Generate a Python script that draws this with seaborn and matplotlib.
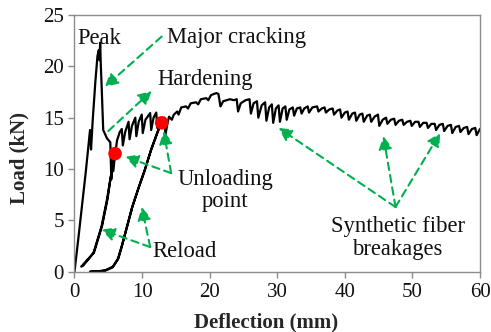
import matplotlib
matplotlib.use("Agg")
import matplotlib.pyplot as plt
import seaborn as sns
import pandas as pd

# ---------------- data ----------------
deflection = [
    0.0, 0.6, 1.2, 1.7, 2.3, 2.45, 2.7, 3.1, 3.4, 3.6, 3.7, 3.8, 3.9, 4.0, 4.25, 4.8, 5.3,
    5.45, 5.6, 5.75, 6.0,
    5.6, 5.3, 4.8, 4.0, 2.8, 1.0,
    1.3, 2.9, 4.1, 4.9, 5.4, 5.8, 6.1, 6.3, 6.7, 7.0, 7.15, 7.5, 8.0, 8.15, 8.5, 9.0, 9.15,
    9.5, 9.95, 10.1, 10.5, 11.2, 11.35, 11.7, 12.1, 12.25, 12.6, 12.9,
    12.3, 11.3, 10.3, 9.4, 8.5, 7.6, 7.0, 6.4, 5.6, 4.5, 3.5, 2.3,
    3.6, 4.6, 5.7, 6.5, 7.1, 7.7, 8.6, 9.5, 10.4, 11.4, 12.4, 13.0, 13.3, 13.45, 13.8,
    14.0, 14.4, 14.7, 15.2, 15.4, 15.8, 16.5, 16.8, 17.2, 18.0, 18.3, 18.7, 19.5, 19.8,
    20.2, 21.0, 21.3, 21.6, 22.0, 23.0, 23.6, 24.0, 24.2, 24.6, 25.3, 25.9, 26.1, 26.5,
    27.0, 27.2, 27.7, 28.2, 28.4, 28.8, 29.2, 29.4, 29.8, 30.2, 30.4, 30.8, 31.2, 31.4,
    31.8, 32.3, 32.5, 32.9, 33.4, 33.6, 34.0, 34.5, 34.7, 35.2, 35.9, 36.1, 36.6, 37.0,
    37.2, 37.7, 38.2, 38.4, 38.9, 39.3, 39.5, 40.0, 40.4, 40.6, 41.1, 41.5, 41.7, 42.2,
    42.6, 42.8, 43.3, 43.7, 43.9, 44.4, 44.9, 45.1, 45.6, 46.1, 46.3, 46.8, 47.3, 47.5,
    48.0, 48.5, 48.7, 49.2, 49.7, 49.9, 50.4, 50.9, 51.1, 51.6, 52.1, 52.3, 52.8, 53.3,
    53.5, 54.0, 54.5, 54.7, 55.2, 55.7, 55.9, 56.4, 56.9, 57.1, 57.6, 58.1, 58.3, 58.8,
    59.3, 59.5, 60.0,
]
load = [
    0.0, 3.4, 6.9, 9.9, 13.8, 11.9, 14.8, 18.6, 21.0, 21.6, 20.6, 22.3, 20.0, 18.4, 13.8, 13.0, 12.6,
    9.0, 11.8, 9.8, 11.5,
    9.8, 9.0, 7.0, 4.4, 1.8, 0.5,
    0.6, 1.9, 4.5, 7.1, 9.4, 10.8, 11.8, 12.8, 13.6, 13.9, 12.3, 13.6, 14.6, 12.9, 14.2, 15.0, 13.2,
    14.6, 15.3, 13.5, 14.8, 15.45, 13.8, 15.0, 15.5, 14.0, 14.8, 14.5,
    13.6, 11.8, 9.7, 8.0, 6.2, 4.0, 2.5, 1.2, 0.4, 0.1, 0.0, 0.0,
    0.05, 0.15, 0.5, 1.3, 2.7, 4.2, 6.4, 8.2, 9.9, 12.0, 13.8, 14.6, 15.0, 13.3, 14.6,
    15.1, 14.8, 15.3, 15.6, 15.3, 16.0, 16.1, 15.9, 16.4, 16.5, 16.3, 16.8, 16.9, 16.7,
    17.2, 17.4, 17.3, 16.1, 16.6, 16.8, 16.7, 16.8, 15.6, 16.4, 16.7, 16.8, 15.4, 16.4,
    16.6, 15.0, 16.2, 16.5, 14.7, 16.0, 16.3, 14.5, 15.9, 16.2, 14.6, 15.9, 16.1, 14.8,
    15.8, 16.0, 15.2, 15.9, 16.0, 15.4, 15.9, 16.1, 15.5, 16.0, 16.1, 15.6, 15.9, 16.0,
    15.5, 15.8, 15.9, 15.3, 15.7, 15.8, 15.0, 15.5, 15.6, 14.8, 15.4, 15.5, 14.7, 15.3,
    15.4, 14.6, 15.2, 15.3, 14.6, 15.1, 15.3, 14.2, 14.8, 15.0, 14.4, 14.8, 14.9, 14.3,
    14.7, 14.8, 14.3, 14.6, 14.7, 14.2, 14.6, 14.6, 14.1, 14.5, 14.5, 14.0, 14.4, 14.4,
    13.8, 14.3, 14.4, 13.7, 14.2, 14.3, 13.5, 14.1, 14.2, 13.6, 14.0, 14.1, 13.4, 13.9,
    14.0, 13.3, 13.9,
]

unload_x = [6.0, 12.9]
unload_y = [11.5, 14.5]

x_ticks = [0, 10, 20, 30, 40, 50, 60]
y_ticks = [0, 5, 10, 15, 20, 25]

# annotation texts: (text, x, y, ha)
labels = [
    ("Peak", 3.7, 22.7, "center"),
    ("Major cracking", 13.7, 22.8, "left"),
    ("Hardening", 12.2, 18.7, "left"),
    ("Unloading\npoint", 22.3, 7.9, "center"),
    ("Reload", 11.6, 2.0, "left"),
    ("Synthetic fiber\nbreakages", 47.8, 3.3, "center"),
]
# arrows: (tail x, tail y, head x, head y)
arrows = [
    (12.9, 22.9, 4.5, 18.0),
    (5.0, 13.7, 11.4, 17.6),
    (14.3, 9.6, 7.5, 11.2),
    (14.3, 9.6, 13.2, 13.7),
    (11.2, 2.4, 4.0, 4.1),
    (11.2, 2.4, 9.95, 6.3),
    (47.5, 6.3, 30.2, 14.0),
    (47.5, 6.3, 45.7, 13.2),
    (47.5, 6.3, 54.1, 13.5),
]

# ---------------- plot ----------------
sns.set_theme(style="white")
plt.rcParams["font.family"] = ["Liberation Serif", "DejaVu Serif"]

fig = plt.figure(figsize=(4.91, 3.32), dpi=100)
ax = fig.add_axes([0.1517, 0.1816, 0.9776 - 0.1517, 0.9548 - 0.1816])

df = pd.DataFrame({"Deflection": deflection, "Load": load})
sns.lineplot(data=df, x="Deflection", y="Load", sort=False, estimator=None,
             color="black", linewidth=1.6, ax=ax)
sns.scatterplot(x=unload_x, y=unload_y, color="#ff0000", s=95, edgecolor="none",
                ax=ax, zorder=5)

green = "#00b050"
for tx, ty, hx, hy in arrows:
    ax.annotate("", xy=(hx, hy), xytext=(tx, ty),
                arrowprops=dict(arrowstyle="-|>,head_length=0.6,head_width=0.32",
                                mutation_scale=13, color=green, lw=1.5,
                                linestyle=(0, (3.6, 2.4)), shrinkA=0, shrinkB=0),
                zorder=4)

for txt, x, y, ha in labels:
    ax.text(x, y, txt, ha=ha, va="center", fontsize=16.3, color="#111111",
            linespacing=1.1, zorder=6)

ax.set_xlim(0, 60)
ax.set_ylim(0, 25)
ax.set_xticks(x_ticks)
ax.set_yticks(y_ticks)
ax.tick_params(axis="both", which="major", direction="out", length=4, width=1,
               color="#8c8c8c", labelsize=15, labelcolor="#111111",
               bottom=True, left=True, top=False, right=False)
ax.tick_params(axis="x", pad=4)
ax.tick_params(axis="y", pad=3.5)
for s in ax.spines.values():
    s.set_color("#8c8c8c")
    s.set_linewidth(1.0)
ax.set_xlabel("Deflection (mm)", fontsize=15, fontweight="bold")
ax.set_ylabel("Load (kN)", fontsize=15, fontweight="bold")
ax.xaxis.set_label_coords(0.472, -0.158)
ax.yaxis.set_label_coords(-0.11, 0.443)

fig.savefig("out.png", dpi=100)
